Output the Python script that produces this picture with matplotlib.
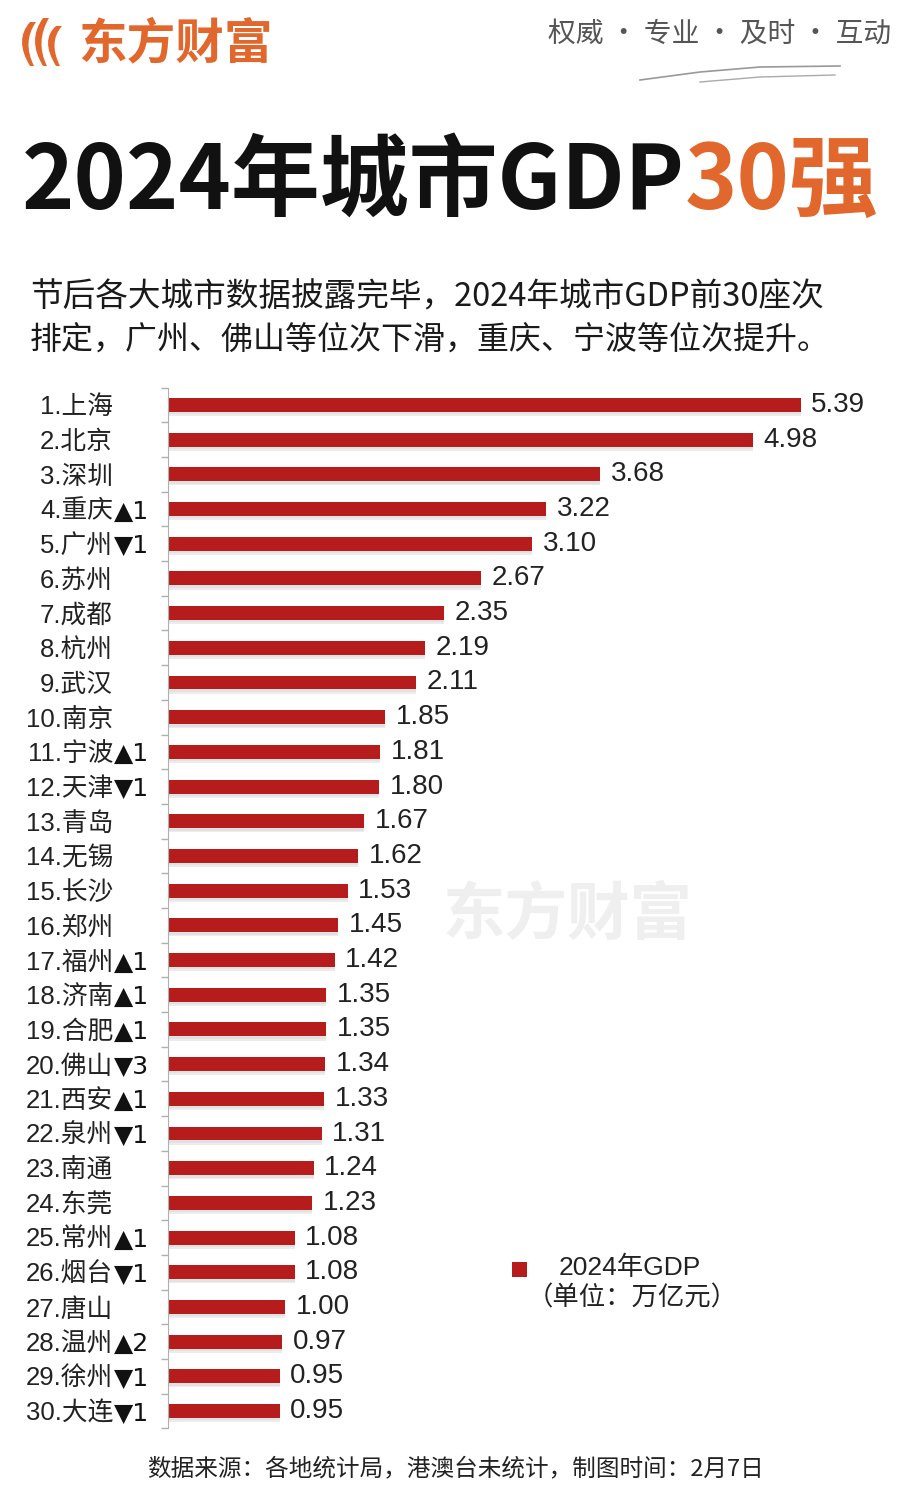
import matplotlib
matplotlib.use("Agg")
import matplotlib.pyplot as plt
from matplotlib.patches import Rectangle, PathPatch
from matplotlib.path import Path

# ---- data ----
names = ["1.上海", "2.北京", "3.深圳", "4.重庆", "5.广州", "6.苏州", "7.成都",
         "8.杭州", "9.武汉", "10.南京", "11.宁波", "12.天津", "13.青岛", "14.无锡",
         "15.长沙", "16.郑州", "17.福州", "18.济南", "19.合肥", "20.佛山",
         "21.西安", "22.泉州", "23.南通", "24.东莞", "25.常州", "26.烟台",
         "27.唐山", "28.温州", "29.徐州", "30.大连"]
rank_change = ["", "", "", "▲1", "▼1", "", "", "", "", "", "▲1", "▼1", "", "",
               "", "", "▲1", "▲1", "▲1", "▼3", "▲1", "▼1", "", "", "▲1", "▼1",
               "", "▲2", "▼1", "▼1"]
gdp = [5.39, 4.98, 3.68, 3.22, 3.10, 2.67, 2.35, 2.19, 2.11, 1.85, 1.81, 1.80, 1.67, 1.62,
       1.53, 1.45, 1.42, 1.35, 1.35, 1.34, 1.33, 1.31, 1.24, 1.23, 1.08, 1.08, 1.00, 0.97,
       0.95, 0.95]

title_main = "2024年城市GDP"
title_hl = "30强"
subtitle = ["节后各大城市数据披露完毕，2024年城市GDP前30座次",
            "排定，广州、佛山等位次下滑，重庆、宁波等位次提升。"]
legend_label = "2024年GDP"
unit_label = "（单位：万亿元）"
source = "数据来源：各地统计局，港澳台未统计，制图时间：2月7日"

RED = "#b71c1c"
ORANGE = "#e2672c"
LAT = ["Liberation Sans", "Noto Sans CJK SC", "DejaVu Sans"]
CJK = ["Noto Sans CJK SC", "DejaVu Sans"]

W, H = 907, 1490
fig = plt.figure(figsize=(W / 100, H / 100), dpi=100)
fig.patch.set_facecolor("white")

# background / decoration layer in pixel coords
bg = fig.add_axes([0, 0, 1, 1], zorder=0)
bg.set_xlim(0, W)
bg.set_ylim(H, 0)
bg.axis("off")

# logo icon (three curved strokes)
for dx, top in [(0, 22), (13, 18), (26, 26)]:
    verts = [(30 + dx, top), (14 + dx, 40), (30 + dx, 66), (34 + dx, 66),
             (22 + dx, 42), (36 + dx, top), (30 + dx, top)]
    codes = [Path.MOVETO, Path.CURVE3, Path.CURVE3, Path.LINETO,
             Path.CURVE3, Path.CURVE3, Path.CLOSEPOLY]
    bg.add_patch(PathPatch(Path(verts, codes), fc=ORANGE, ec="none"))
bg.text(78, 44, "东方财富", fontsize=35, fontweight="bold", color=ORANGE,
        family=CJK, va="center", ha="left")
bg.text(548, 34, "权威 · 专业 · 及时 · 互动", fontsize=20, color="#555555",
        family=CJK, va="center", ha="left")
# swooshes
bg.plot([640, 700, 760, 840], [80, 72, 67, 66], color="#999999", lw=1.2)
bg.plot([700, 760, 835], [82, 77, 75], color="#aaaaaa", lw=1.0)

# watermark (faint, behind the bars)
bg.text(442, 915, "东方财富", fontsize=45, color="#efefef", family=CJK,
        va="center", ha="left", fontweight="bold")

# title
renderer = fig.canvas.get_renderer()
t1 = bg.text(22, 183, title_main, fontsize=64, fontweight="black", color="#111111",
             family=CJK, va="center", ha="left")
bb = t1.get_window_extent(renderer)
x_end = bb.x1 / fig.dpi * 100  # pixels
bg.text(x_end, 183, title_hl, fontsize=64, fontweight="black", color=ORANGE,
        family=CJK, va="center", ha="left")

bg.text(30, 297, subtitle[0], fontsize=23.5, color="#1a1a1a", family=CJK,
        va="center", ha="left")
bg.text(30, 340, subtitle[1], fontsize=23, color="#1a1a1a", family=CJK,
        va="center", ha="left")

# legend (manual)
bg.add_patch(Rectangle((512, 1262), 15, 15, fc=RED, ec="none"))
bg.text(630, 1268, legend_label, fontsize=19, color="#222222", family=LAT,
        va="center", ha="center")
bg.text(632, 1298, unit_label, fontsize=19, color="#222222", family=CJK,
        va="center", ha="center")

bg.text(455, 1470, source, fontsize=17, color="#222222", family=CJK,
        va="center", ha="center")

# ---- bar chart ----
top_px, bot_px = 387.6, 1428.4
left_px = 168
ppu = 117.4
xmax = 6.0
ax_w = xmax * ppu
ax = fig.add_axes([left_px / W, 1 - bot_px / H, ax_w / W, (bot_px - top_px) / H],
                  zorder=1)
ax.patch.set_alpha(0)

y = list(range(len(names)))
ax.barh([v + 0.12 for v in y], gdp, height=0.40, color="#ececec", zorder=1)
ax.barh([v + 0.07 for v in y], gdp, height=0.40, color="#e2e2e2", zorder=1)
ax.barh(y, gdp, height=0.40, color=RED, zorder=2)
for yi, v in zip(y, gdp):
    ax.text(v + 0.09, yi, f"{v:.2f}", fontsize=20, color="#222222", family=LAT,
            va="center", ha="left")

# rank change markers after the names
ytrans = ax.get_yaxis_transform()
for yi, ch in zip(y, rank_change):
    if ch:
        ax.text((114 - left_px) / ax_w, yi, ch, fontsize=18, color="#111111",
                family=["DejaVu Sans"], va="center_baseline", ha="left",
                transform=ytrans)

ax.set_xlim(0, xmax)
ax.set_ylim(len(names) - 0.5, -0.5)
ax.set_yticks(y)
ax.set_yticklabels(names, family=LAT, fontsize=18.5, color="#222222")
ax.set_yticks([i - 0.5 for i in range(len(names) + 1)], minor=True)
ax.tick_params(axis="y", which="major", length=0, pad=(left_px - 113) * 0.72)
ax.tick_params(axis="y", which="minor", length=5, color="#b0b0b0", width=1)
ax.set_xticks([])
for s in ["top", "right", "bottom"]:
    ax.spines[s].set_visible(False)
ax.spines["left"].set_color("#b0b0b0")

fig.savefig("out.png", dpi=100, facecolor="white")
